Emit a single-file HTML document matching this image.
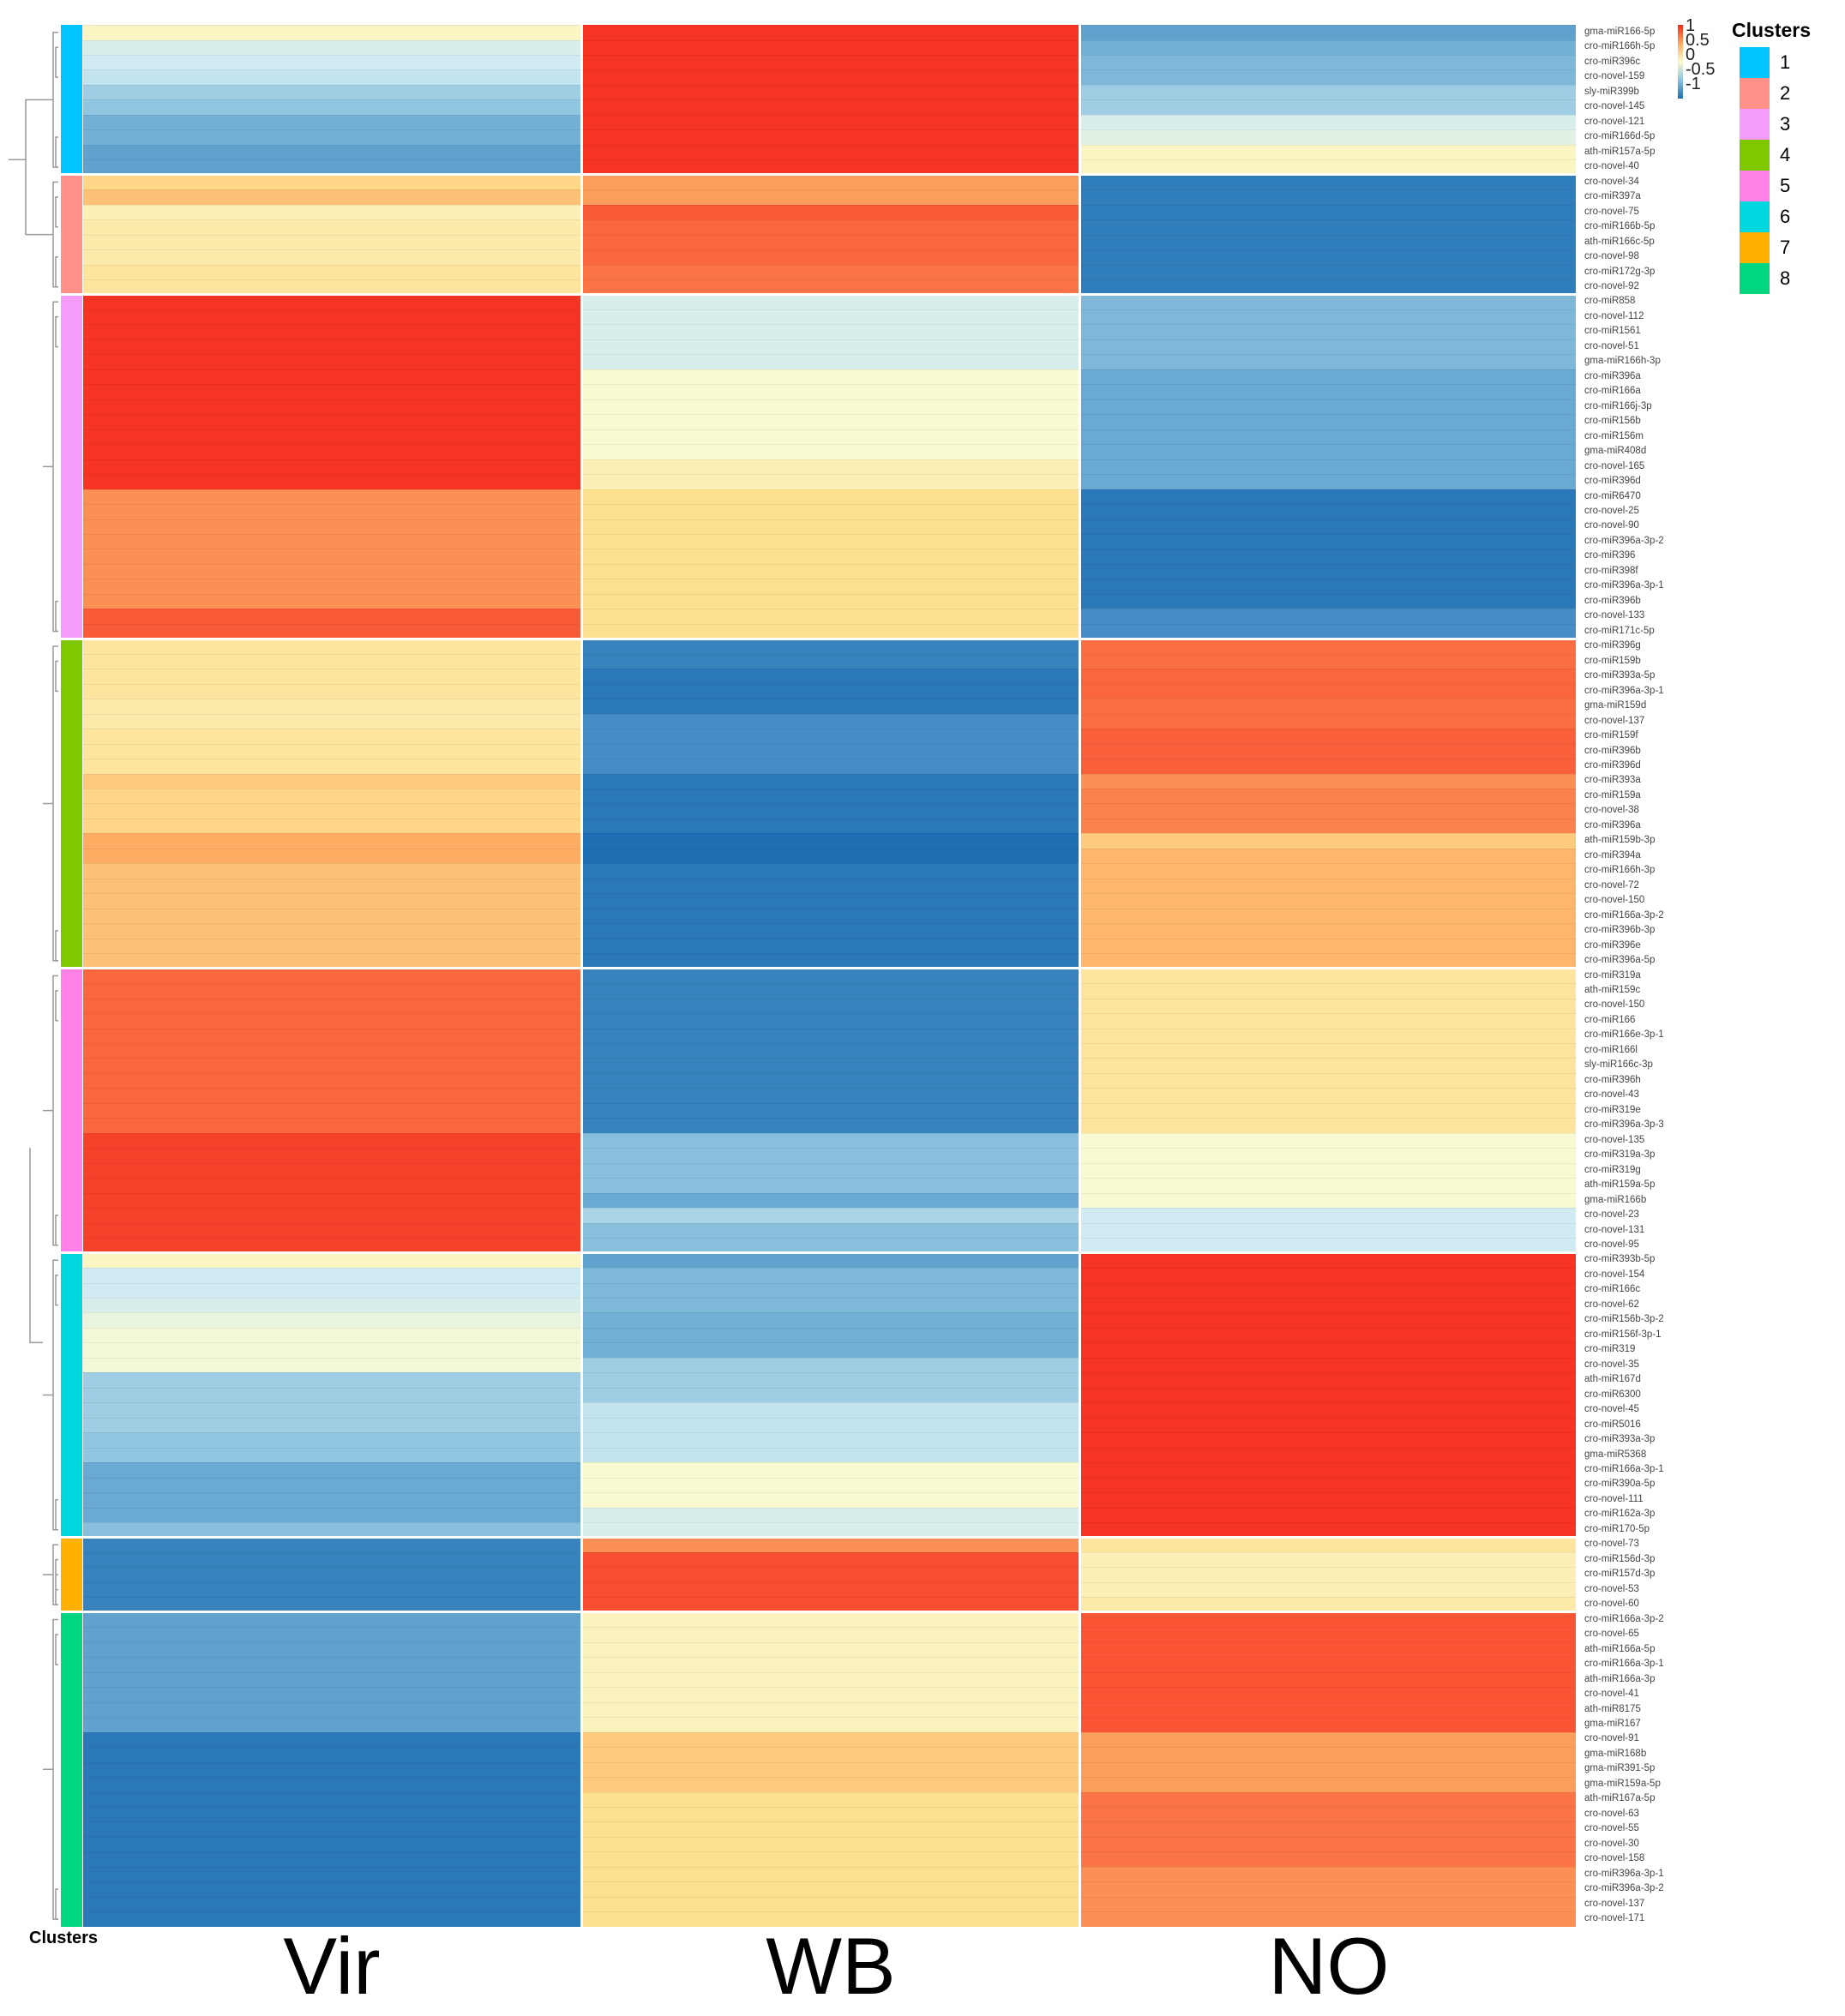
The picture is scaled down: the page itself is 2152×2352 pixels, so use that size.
<!DOCTYPE html>
<html><head><meta charset="utf-8"><style>
body{margin:0;width:2152px;height:2352px;background:#fff;position:relative;overflow:hidden;font-family:"Liberation Sans",sans-serif}
.cell{position:absolute}
#labels{position:absolute;left:1848px;top:29px;font-size:11.5px;color:#444;line-height:17.47px;white-space:nowrap}
.big{position:absolute;font-size:94px;top:2240px;width:580px;text-align:center}
.lg{position:absolute;left:2029px;width:35px;height:36px}
.ln{position:absolute;left:2076px;font-size:22px}
</style></head><body>
<div id="hm"></div>
<svg id="den" width="70" height="2260" style="position:absolute;left:0;top:0" stroke="#999" stroke-width="1.5" fill="none"></svg>
<div id="labels">
gma-miR166-5p<br>cro-miR166h-5p<br>cro-miR396c<br>cro-novel-159<br>sly-miR399b<br>cro-novel-145<br>cro-novel-121<br>cro-miR166d-5p<br>ath-miR157a-5p<br>cro-novel-40<br>
cro-novel-34<br>cro-miR397a<br>cro-novel-75<br>cro-miR166b-5p<br>ath-miR166c-5p<br>cro-novel-98<br>cro-miR172g-3p<br>cro-novel-92<br>
cro-miR858<br>cro-novel-112<br>cro-miR1561<br>cro-novel-51<br>gma-miR166h-3p<br>cro-miR396a<br>cro-miR166a<br>cro-miR166j-3p<br>cro-miR156b<br>cro-miR156m<br>gma-miR408d<br>cro-novel-165<br>cro-miR396d<br>cro-miR6470<br>cro-novel-25<br>cro-novel-90<br>cro-miR396a-3p-2<br>cro-miR396<br>cro-miR398f<br>cro-miR396a-3p-1<br>cro-miR396b<br>cro-novel-133<br>cro-miR171c-5p<br>
cro-miR396g<br>cro-miR159b<br>cro-miR393a-5p<br>cro-miR396a-3p-1<br>gma-miR159d<br>cro-novel-137<br>cro-miR159f<br>cro-miR396b<br>cro-miR396d<br>cro-miR393a<br>cro-miR159a<br>cro-novel-38<br>cro-miR396a<br>ath-miR159b-3p<br>cro-miR394a<br>cro-miR166h-3p<br>cro-novel-72<br>cro-novel-150<br>cro-miR166a-3p-2<br>cro-miR396b-3p<br>cro-miR396e<br>cro-miR396a-5p<br>
cro-miR319a<br>ath-miR159c<br>cro-novel-150<br>cro-miR166<br>cro-miR166e-3p-1<br>cro-miR166l<br>sly-miR166c-3p<br>cro-miR396h<br>cro-novel-43<br>cro-miR319e<br>cro-miR396a-3p-3<br>cro-novel-135<br>cro-miR319a-3p<br>cro-miR319g<br>ath-miR159a-5p<br>gma-miR166b<br>cro-novel-23<br>cro-novel-131<br>cro-novel-95<br>
cro-miR393b-5p<br>cro-novel-154<br>cro-miR166c<br>cro-novel-62<br>cro-miR156b-3p-2<br>cro-miR156f-3p-1<br>cro-miR319<br>cro-novel-35<br>ath-miR167d<br>cro-miR6300<br>cro-novel-45<br>cro-miR5016<br>cro-miR393a-3p<br>gma-miR5368<br>cro-miR166a-3p-1<br>cro-miR390a-5p<br>cro-novel-111<br>cro-miR162a-3p<br>cro-miR170-5p<br>
cro-novel-73<br>cro-miR156d-3p<br>cro-miR157d-3p<br>cro-novel-53<br>cro-novel-60<br>
cro-miR166a-3p-2<br>cro-novel-65<br>ath-miR166a-5p<br>cro-miR166a-3p-1<br>ath-miR166a-3p<br>cro-novel-41<br>ath-miR8175<br>gma-miR167<br>cro-novel-91<br>gma-miR168b<br>gma-miR391-5p<br>gma-miR159a-5p<br>ath-miR167a-5p<br>cro-novel-63<br>cro-novel-55<br>cro-novel-30<br>cro-novel-158<br>cro-miR396a-3p-1<br>cro-miR396a-3p-2<br>cro-novel-137<br>cro-novel-171
</div>
<div style="position:absolute;left:1957px;top:29px;width:6px;height:86px;background:linear-gradient(#f5281e,#fdaa5f 25%,#fafacd 50%,#8cc4df 75%,#1f6eb4)"></div>
<div style="position:absolute;left:1966px;top:22px;font-size:20px;line-height:17px;color:#222">1<br>0.5<br>0<br>-0.5<br>-1</div>
<div style="position:absolute;left:2020px;top:22px;font-size:23px;font-weight:bold">Clusters</div>
<div class="lg" style="top:55px;background:#00c5ff"></div><div class="ln" style="top:60px">1</div>
<div class="lg" style="top:91px;background:#ff9088"></div><div class="ln" style="top:96px">2</div>
<div class="lg" style="top:127px;background:#f59cfa"></div><div class="ln" style="top:132px">3</div>
<div class="lg" style="top:163px;background:#7fc800"></div><div class="ln" style="top:168px">4</div>
<div class="lg" style="top:199px;background:#ff80e6"></div><div class="ln" style="top:204px">5</div>
<div class="lg" style="top:235px;background:#00d8e0"></div><div class="ln" style="top:240px">6</div>
<div class="lg" style="top:271px;background:#ffb000"></div><div class="ln" style="top:276px">7</div>
<div class="lg" style="top:307px;background:#00d680"></div><div class="ln" style="top:312px">8</div>
<div style="position:absolute;left:34px;top:2250px;font-size:20px;font-weight:bold">Clusters</div>
<div class="big" style="left:97px">Vir</div>
<div class="big" style="left:679px">WB</div>
<div class="big" style="left:1260px">NO</div>
<script>
var R=17.47,T=29;
var cl=[[10,'#00c5ff'],[8,'#ff9088'],[23,'#f59cfa'],[22,'#7fc800'],[19,'#ff80e6'],[19,'#00d8e0'],[5,'#ffb000'],[21,'#00d680']];
function rep(a,n){var o=[];for(var i=0;i<n;i++)o.push(a);return o;}
var V=[].concat([0.05,-0.2,-0.25,-0.3,-0.45,-0.5,-0.65,-0.65,-0.75,-0.75],
[0.3,0.4,0.1,0.15,0.15,0.15,0.2,0.2],
rep(0.95,13),rep(0.6,8),[0.8,0.8],
[0.2,0.2,0.2,0.2,0.15,0.15,0.2,0.2,0.2,0.35,0.3,0.3,0.3,0.5,0.5,0.4,0.4,0.4,0.4,0.4,0.4,0.4],
rep(0.75,11),rep(0.9,8),
[0.05,-0.25,-0.25,-0.2,-0.1,-0.05,-0.05,-0.05,-0.45,-0.45,-0.45,-0.45,-0.5,-0.5,-0.7,-0.7,-0.7,-0.7,-0.55],
rep(-0.9,5),
rep(-0.75,8),rep(-0.95,13));
var W=[].concat(rep(0.95,10),
[0.55,0.55,0.8,0.75,0.75,0.75,0.7,0.7],
rep(-0.2,5),rep(0.0,6),[0.1,0.1],rep(0.25,10),
[-0.9,-0.9,-0.95,-0.95,-0.95,-0.85,-0.85,-0.85,-0.85,-0.95,-0.95,-0.95,-0.95,-1,-1,-0.95,-0.95,-0.95,-0.95,-0.95,-0.95,-0.95],
rep(-0.9,11),[-0.55,-0.55,-0.55,-0.55,-0.7,-0.4,-0.55,-0.55],
[-0.75,-0.6,-0.6,-0.6,-0.65,-0.65,-0.65,-0.45,-0.45,-0.45,-0.3,-0.3,-0.3,-0.3,0.0,0.0,0.0,-0.2,-0.2],
[0.6,0.85,0.85,0.85,0.85],
rep(0.07,8),rep(0.35,4),rep(0.25,9));
var N=[].concat([-0.75,-0.65,-0.6,-0.6,-0.45,-0.45,-0.2,-0.15,0.05,0.05],
rep(-0.93,8),
rep(-0.6,5),rep(-0.7,8),rep(-0.95,8),[-0.85,-0.85],
[0.72,0.72,0.75,0.75,0.72,0.72,0.78,0.78,0.78,0.6,0.65,0.65,0.65,0.35,0.45,0.45,0.45,0.45,0.45,0.45,0.45,0.45],
rep(0.2,11),rep(0.0,5),rep(-0.25,3),
rep(0.95,19),
[0.2,0.1,0.1,0.1,0.15],
rep(0.82,8),rep(0.55,4),rep(0.7,5),rep(0.6,4));
var S=[[-1,[30,110,180]],[-0.75,[95,162,206]],[-0.5,[145,198,224]],[-0.25,[208,235,242]],[0,[250,250,208]],[0.25,[254,224,145]],[0.5,[253,172,98]],[0.75,[250,102,62]],[1,[245,40,30]]];
function col(v){v=Math.max(-1,Math.min(1,v));for(var i=0;i<S.length-1;i++){if(v<=S[i+1][0]){var t=(v-S[i][0])/(S[i+1][0]-S[i][0]);var a=S[i][1],b=S[i+1][1];return 'rgb('+a.map(function(x,k){return Math.round(x+(b[k]-x)*t)}).join(',')+')';}}}
var h='',cols=[[97,580,V],[680,578,W],[1261,577,N]];
for(var r=0;r<127;r++){var y=T+r*R;
 cols.forEach(function(c){h+='<div class="cell" style="left:'+c[0]+'px;top:'+y.toFixed(1)+'px;width:'+c[1]+'px;height:'+(R+0.5).toFixed(1)+'px;background:'+col(c[2][r])+';border-top:1px solid rgba(0,0,0,0.06);box-sizing:border-box"></div>';});}
var y0=T,d='';
cl.forEach(function(c,i){var hh=c[0]*R;h+='<div class="cell" style="left:71px;top:'+y0+'px;width:25px;height:'+hh+'px;background:'+c[1]+'"></div>';
 if(i>0)h+='<div class="cell" style="left:71px;top:'+(y0-1.5)+'px;width:1770px;height:3px;background:#fff"></div>';
 var m=y0+hh/2;d+='<path d="M68 '+(y0+R/2)+'H62V'+(y0+hh-R/2)+'H68M62 '+m+'H50"/>';
 d+='<path d="M68 '+(y0+R*1.5)+'H65V'+(y0+R*3.5)+'H68M68 '+(y0+hh-R*2.5)+'H65V'+(y0+hh-R*0.5)+'H68"/>';
 y0+=hh;});
h+='<div class="cell" style="left:677px;top:29px;width:3px;height:2220px;background:#fff"></div><div class="cell" style="left:1258px;top:29px;width:3px;height:2220px;background:#fff"></div>';
d+='<path d="M50 '+(T+5*R)+'H30V'+(T+14*R)+'H50M30 '+(T+9*R)+'H10M50 '+(T+88*R)+'H35V'+(T+150*R/2)+'"/>';
document.getElementById('hm').innerHTML=h;
document.getElementById('den').innerHTML=d;
</script>
</body></html>
